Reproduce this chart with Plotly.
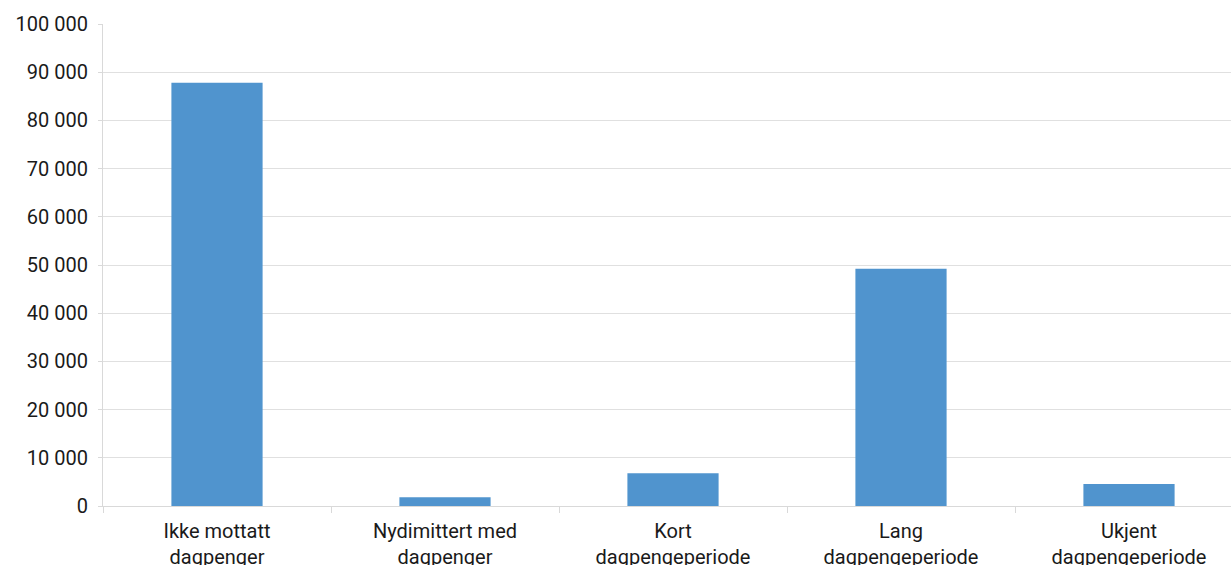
import plotly.graph_objects as go

categories = ["Ikke mottatt<br>dagpenger", "Nydimittert med<br>dagpenger", "Kort<br>dagpengeperiode",
              "Lang<br>dagpengeperiode", "Ukjent<br>dagpengeperiode"]
values = [87800, 1800, 6800, 49200, 4550]
y_ticks = [0, 10000, 20000, 30000, 40000, 50000, 60000, 70000, 80000, 90000, 100000]

fig = go.Figure(go.Bar(x=categories, y=values, marker=dict(color="#5094CE", line=dict(width=0))))

# the reference is cropped on the right and bottom: the plot runs slightly past the window edge
fig.update_layout(
    width=1243, height=565,
    margin=dict(l=103, r=0, t=24, b=59),
    plot_bgcolor="white", paper_bgcolor="white",
    bargap=0.6, showlegend=False,
    separators=", ",
    font=dict(family="Roboto", size=20, color="#1a1a1a"),
)
fig.update_xaxes(showline=True, linecolor="#d9d9d9", linewidth=1, automargin=False,
                 ticks="outside", tickson="boundaries", ticklen=6, tickcolor="#d9d9d9",
                 ticklabelstandoff=7, tickfont=dict(size=20))
fig.update_yaxes(range=[0, 100000], tickvals=y_ticks, tickformat=",d", automargin=False,
                 showgrid=True, gridcolor="#e0e0e0", zeroline=False,
                 showline=True, linecolor="#d9d9d9", ticks="outside", ticklen=4,
                 tickcolor="#d9d9d9", ticklabelstandoff=6, tickfont=dict(size=20))

fig.write_html("out.html", config={"displayModeBar": False},
               post_script="document.body.style.margin='0';document.body.style.overflow='hidden';")
